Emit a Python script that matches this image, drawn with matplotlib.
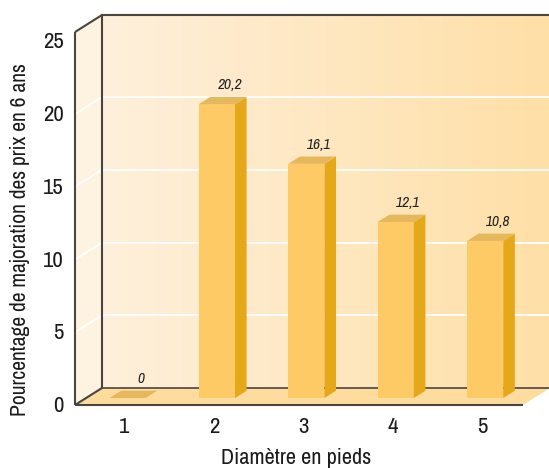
import numpy as np
import matplotlib
matplotlib.use('Agg')

import matplotlib.pyplot as plt
from matplotlib import transforms, font_manager
from matplotlib.patches import Polygon
from matplotlib.colors import LinearSegmentedColormap

diametres = [1, 2, 3, 4, 5]
majoration = [0, 20.2, 16.1, 12.1, 10.8]
etiquettes = ['0', '20,2', '16,1', '12,1', '10,8']
graduations = [0, 5, 10, 15, 20, 25]
lignes = [5, 10, 15, 20]

# first narrow face that is installed
noms = {f.name for f in font_manager.fontManager.ttflist}
POLICE = next((n for n in ['Archivo Narrow', 'Roboto Condensed', 'PT Sans Narrow',
                           'Liberation Sans Narrow'] if n in noms), 'DejaVu Sans')
plt.rcParams['font.family'] = [POLICE, 'DejaVu Sans']

TRAIT = '#4b4540'
MUR_G = '#fef0dc'
MUR_D = '#ffdfa6'
COTE = '#fef2e0'
SOL = '#fddc9e'
FACE = '#fdca66'
FLANC = '#e5a81a'
DESSUS = '#e6b85e'

PROF = (-27, -17)          # depth vector of the box, in pixels
Z_AV, Z_AR = 0.59, 0.16    # bar front / back depth (fraction of box)
DEMI = 0.202               # half bar width

fig = plt.figure(figsize=(5.49, 4.68), dpi=100)
ax = fig.add_axes([102 / 549, 80 / 468, 448 / 549, 373 / 468])
x0, x1 = 0.536, 5.547
haut = 25.64

fond = LinearSegmentedColormap.from_list('fond', [MUR_G, MUR_D])
ax.imshow(np.linspace(0, 1, 256)[None, :], cmap=fond, aspect='auto',
          extent=[x0, x1, 0, haut], zorder=0)
ax.set_xlim(x0, x1)
ax.set_ylim(0, haut)

sx = ax.bbox.width / (x1 - x0)
sy = ax.bbox.height / haut
DX, DY = PROF[0] / sx, PROF[1] / sy


def proj(x, y, z):
    return (x + z * DX, y + z * DY)


# side wall and floor
ax.add_patch(Polygon([proj(x0, 0, 0), proj(x0, haut, 0), proj(x0, haut, 1), proj(x0, 0, 1)],
                     closed=True, fc=COTE, ec='none', clip_on=False, zorder=0.5))
ax.add_patch(Polygon([proj(x0, 0, 0), proj(x1, 0, 0), proj(x1, 0, 1), proj(x0, 0, 1)],
                     closed=True, fc=SOL, ec='none', clip_on=False, zorder=0.5))

for g in lignes:
    ax.axhline(g, color='white', lw=1.3, zorder=1)
    a, b = proj(x0, g, 0), proj(x0, g, 1)
    ax.plot([a[0], b[0]], [a[1], b[1]], color='white', lw=1.3, clip_on=False, zorder=1)

for cote in ['left', 'top', 'bottom']:
    ax.spines[cote].set_color(TRAIT)
    ax.spines[cote].set_linewidth(1.5)
ax.spines['bottom'].set_linewidth(1.2)
ax.spines['right'].set_visible(False)

aretes = [
    (proj(x0, 0, 1), proj(x0, haut, 1)),
    (proj(x0, haut, 0), proj(x0, haut, 1)),
    (proj(x0, 0, 0), proj(x0, 0, 1)),
    (proj(x0, 0, 1), proj(x1, 0, 1)),
]
for a, b in aretes:
    ax.plot([a[0], b[0]], [a[1], b[1]], color=TRAIT, lw=1.5, clip_on=False,
            solid_capstyle='butt', zorder=2.6)

# bars
for c, v, txt in zip(diametres, majoration, etiquettes):
    g, d = c - DEMI, c + DEMI
    if v > 0:
        ax.add_patch(Polygon([proj(g, 0, Z_AV), proj(d, 0, Z_AV), proj(d, v, Z_AV), proj(g, v, Z_AV)],
                             closed=True, fc=FACE, ec='none', clip_on=False, zorder=4))
        ax.add_patch(Polygon([proj(d, 0, Z_AV), proj(d, v, Z_AV), proj(d, v, Z_AR), proj(d, 0, Z_AR)],
                             closed=True, fc=FLANC, ec='none', clip_on=False, zorder=4))
    ax.add_patch(Polygon([proj(g, v, Z_AV), proj(d, v, Z_AV), proj(d, v, Z_AR), proj(g, v, Z_AR)],
                         closed=True, fc=DESSUS, ec='none', clip_on=False, zorder=4))
    ax.text(c, v, txt, style='italic', fontsize=11, color='#222222',
            ha='center', va='center', zorder=5,
            transform=transforms.offset_copy(ax.transData, fig, x=-3, y=9, units='dots'))

ax.set_xticks(diametres)
ax.set_yticks(graduations)
ax.set_xticklabels([str(d) for d in diametres])
ax.set_yticklabels([str(g) for g in graduations])
ax.tick_params(axis='both', length=0, labelsize=16.5, colors='#1a1a1a')
ax.tick_params(axis='x', pad=21)
ax.tick_params(axis='y', pad=8)

dec_x = transforms.ScaledTranslation(-19 / 100, 0, fig.dpi_scale_trans)
dec_y = transforms.ScaledTranslation(PROF[0] / 100, -16 / 100, fig.dpi_scale_trans)
for lab in ax.get_xticklabels():
    lab.set_transform(lab.get_transform() + dec_x)
for lab in ax.get_yticklabels():
    lab.set_transform(lab.get_transform() + dec_y)

ax.set_xlabel('Diamètre en pieds', fontsize=16, color='#1a1a1a')
ax.set_ylabel('Pourcentage de majoration des prix en 6 ans', fontsize=15.5, color='#1a1a1a')
ax.xaxis.label.set_va('center')
ax.yaxis.label.set_va('center')
ax.xaxis.set_label_coords((296 - 102) / 448, (388 - 458) / 373)
ax.yaxis.set_label_coords((20 - 102) / 448, (388 - 240) / 373)

fig.savefig('out.png', dpi=100)
